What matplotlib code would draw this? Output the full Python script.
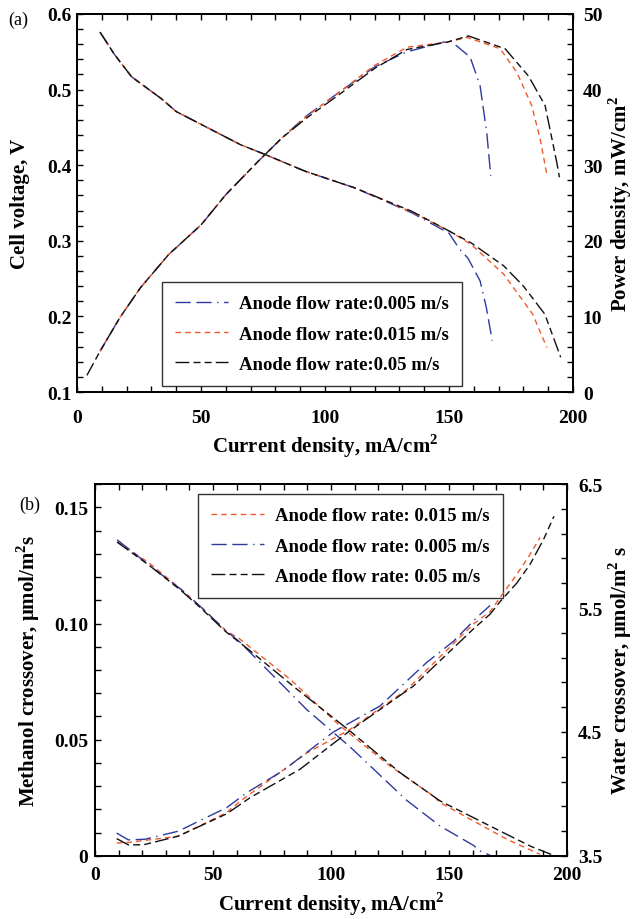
import matplotlib
matplotlib.use("Agg")
import numpy as np
import matplotlib.pyplot as plt
from matplotlib.ticker import MultipleLocator, FixedLocator, FormatStrFormatter

plt.rcParams['font.family'] = ['Liberation Serif', 'DejaVu Serif']
plt.rcParams['font.weight'] = 'bold'
plt.rcParams['axes.labelweight'] = 'bold'
plt.rcParams['mathtext.fontset'] = 'custom'
plt.rcParams['mathtext.rm'] = 'Liberation Serif:bold'
plt.rcParams['mathtext.bf'] = 'Liberation Serif:bold'

# ---- (a) polarization / power curves ----
v_x_005 = [9.3, 15, 22, 34, 40, 53, 66, 76, 92, 112, 135, 150, 154, 157.6, 162.5, 165, 167.4]
v_005 = [0.576, 0.547, 0.517, 0.488, 0.471, 0.449, 0.427, 0.414, 0.392, 0.370, 0.337, 0.310, 0.290, 0.277, 0.247, 0.212, 0.168]
v_x_015 = [9.3, 15, 22, 34, 40, 53, 66, 76, 92, 112, 135, 150, 159, 172, 183.7, 189.4]
v_015 = [0.576, 0.547, 0.517, 0.488, 0.471, 0.449, 0.427, 0.414, 0.392, 0.370, 0.338, 0.313, 0.295, 0.256, 0.203, 0.159]
v_x_05 = [9.3, 15, 22, 34, 40, 53, 66, 76, 92, 112, 135, 150, 159, 172, 180, 188.6, 195]
v_05 = [0.576, 0.547, 0.517, 0.488, 0.471, 0.449, 0.427, 0.414, 0.392, 0.370, 0.339, 0.313, 0.297, 0.267, 0.240, 0.203, 0.146]

p_x_005 = [9.3, 17.4, 25.6, 37, 50, 60, 73, 82.6, 92.4, 105.5, 120, 133, 150.4, 158.5, 162.5, 165.2, 166.8]
p_005 = [5.4, 9.9, 13.8, 18.2, 22.1, 26.1, 30.5, 33.6, 36.5, 39.6, 43.0, 45.0, 46.5, 44.3, 40.5, 34.3, 28.6]
p_x_015 = [9.3, 17.4, 25.6, 37, 50, 60, 73, 82.6, 92.4, 105.5, 120, 133, 149.5, 157.3, 170.6, 177.3, 183.3, 186.7, 189.4]
p_015 = [5.4, 9.9, 13.8, 18.2, 22.1, 26.1, 30.5, 33.6, 36.4, 39.6, 43.2, 45.6, 46.3, 46.9, 45.4, 42.3, 37.9, 33.5, 28.8]
p_x_05 = [4, 9.3, 17.4, 25.6, 37, 50, 60, 73, 82.6, 92.4, 105.5, 120, 133, 149.5, 157.8, 172.6, 182, 188.7, 193.4, 194.5]
p_05 = [2.2, 5.4, 9.9, 13.8, 18.2, 22.1, 26.1, 30.5, 33.6, 36.2, 39.3, 42.8, 45.3, 46.3, 47.1, 45.4, 41.8, 37.9, 30.4, 28.4]

# ---- (b) methanol / water crossover ----
m_x_005 = [9.4, 16.9, 23.3, 36.7, 45, 55.4, 61.4, 89.7, 108, 132, 146.2, 160.3, 163.1, 167.4]
m_005 = [0.136, 0.130, 0.1248, 0.1145, 0.107, 0.097, 0.092, 0.063, 0.047, 0.024, 0.0129, 0.0046, 0.0022, 0.0003]
m_x_015 = [9.4, 23, 36.7, 45, 55.4, 61.4, 82.6, 103.8, 125, 143.4, 146.2, 174.5, 188.6]
m_015 = [0.1352, 0.126, 0.1145, 0.107, 0.097, 0.0933, 0.0761, 0.056, 0.0387, 0.0258, 0.023, 0.0072, 0.0007]
m_x_05 = [9.4, 23, 36.7, 45, 55.4, 65.7, 85.5, 108, 129.2, 146.2, 174.5, 185, 195]
m_05 = [0.1350, 0.125, 0.114, 0.1065, 0.0965, 0.0883, 0.0718, 0.0538, 0.0359, 0.0237, 0.0093, 0.004, 0.0]

w_x_005 = [9.2, 14.1, 21.2, 35.3, 55.8, 64.3, 79.8, 101, 120.8, 140.5, 151.8, 162.4, 167.4]
w_005 = [3.685, 3.63, 3.635, 3.70, 3.89, 4.01, 4.19, 4.50, 4.71, 5.06, 5.23, 5.435, 5.52]
w_x_015 = [9.2, 14.7, 35.3, 55.8, 61.4, 89.7, 108, 132, 160.3, 167.4, 173, 178.7, 184.3, 188.6]
w_015 = [3.605, 3.61, 3.66, 3.85, 3.94, 4.33, 4.52, 4.84, 5.37, 5.47, 5.62, 5.77, 5.93, 6.07]
w_x_05 = [9.2, 14.1, 20.5, 35.3, 55.8, 65.7, 86.9, 108, 134.9, 160.3, 167.4, 171.6, 178.7, 184.3, 190, 194.5]
w_05 = [3.64, 3.59, 3.59, 3.66, 3.84, 3.97, 4.20, 4.51, 4.87, 5.33, 5.45, 5.55, 5.70, 5.85, 6.05, 6.24]

water_ticks = [3.5, 4.5, 5.5, 6.5]

blue = '#2c3a9e'
orange = '#f2592a'
black = '#111111'
ls_005 = (0, (11, 4, 11, 4, 1, 4))
ls_015 = (0, (4, 3))
ls_05 = (0, (10, 3, 5, 3, 5, 3))
lw = 1.0

fig = plt.figure(figsize=(6.32, 9.2), dpi=100)

# top panel
ax1 = fig.add_axes([0.1218, 0.5728, 0.785, 0.4109])
ax1r = ax1.twinx()
l1, = ax1.plot(v_x_005, v_005, color=blue, ls=ls_005, lw=lw)
l2, = ax1.plot(v_x_015, v_015, color=orange, ls=ls_015, lw=lw)
l3, = ax1.plot(v_x_05, v_05, color=black, ls=ls_05, lw=lw)
ax1r.plot(p_x_005, p_005, color=blue, ls=ls_005, lw=lw)
ax1r.plot(p_x_015, p_015, color=orange, ls=ls_015, lw=lw)
ax1r.plot(p_x_05, p_05, color=black, ls=ls_05, lw=lw)

ax1.set_xlim(0, 200)
ax1.set_ylim(0.1, 0.6)
ax1r.set_ylim(0, 50)
ax1.xaxis.set_major_locator(MultipleLocator(50))
ax1.xaxis.set_minor_locator(MultipleLocator(10))
ax1.yaxis.set_major_locator(MultipleLocator(0.1))
ax1.yaxis.set_minor_locator(MultipleLocator(0.02))
ax1.yaxis.set_major_formatter(FormatStrFormatter('%.1f'))
ax1r.yaxis.set_major_locator(MultipleLocator(10))
ax1r.yaxis.set_minor_locator(MultipleLocator(2))
for a in (ax1, ax1r):
    a.tick_params(which='both', direction='in', labelsize=14, length=4, width=1)
    for s in a.spines.values():
        s.set_linewidth(1.3)
ax1.tick_params(axis='x', which='both', top=True, pad=12)
ax1.tick_params(axis='y', pad=4)
ax1r.tick_params(axis='y', pad=7)
ax1.set_xlabel('Current density, mA/cm$^2$', fontsize=15, labelpad=4)

leg1 = ax1.legend([l1, l2, l3],
                  ['Anode flow rate:0.005 m/s', 'Anode flow rate:0.015 m/s',
                   'Anode flow rate:0.05 m/s'],
                  loc='lower left', bbox_to_anchor=(0.172, 0.016), borderaxespad=0,
                  fontsize=13.5, handlelength=2.8, handletextpad=0.6,
                  labelspacing=0.7, borderpad=0.7, fancybox=False)
leg1.get_frame().set_edgecolor('black')
leg1.get_frame().set_linewidth(1.0)

fig.text(20 / 632, 1 - 204 / 920, 'Cell voltage, V', rotation=90, ha='center', va='center', fontsize=15)
fig.text(620 / 632, 1 - 204 / 920, 'Power density, mW/cm$^2$', rotation=90, ha='center', va='center', fontsize=15)
fig.text(18 / 632, 1 - 20 / 920, '(a)', ha='center', va='center', fontsize=13, fontweight='normal')

# bottom panel
ax2 = fig.add_axes([0.1503, 0.0685, 0.7468, 0.4043])
ax2r = ax2.twinx()
k1, = ax2.plot(m_x_015, m_015, color=orange, ls=ls_015, lw=lw)
k2, = ax2.plot(m_x_005, m_005, color=blue, ls=ls_005, lw=lw)
k3, = ax2.plot(m_x_05, m_05, color=black, ls=ls_05, lw=lw)
ax2r.plot(w_x_015, w_015, color=orange, ls=ls_015, lw=lw)
ax2r.plot(w_x_005, w_005, color=blue, ls=ls_005, lw=lw)
ax2r.plot(w_x_05, w_05, color=black, ls=ls_05, lw=lw)

ax2.set_xlim(0, 200)
ax2.set_ylim(0, 0.16)
ax2r.set_ylim(3.5, 6.5)
ax2.xaxis.set_major_locator(MultipleLocator(50))
ax2.xaxis.set_minor_locator(MultipleLocator(10))
ax2.yaxis.set_major_locator(MultipleLocator(0.05))
ax2.yaxis.set_minor_locator(MultipleLocator(0.01))
ax2.yaxis.set_major_formatter(lambda v, p: '0' if abs(v) < 1e-9 else '%.2f' % v)
ax2r.yaxis.set_major_locator(FixedLocator(water_ticks))
ax2r.yaxis.set_minor_locator(FixedLocator(np.arange(3.5, 6.5, 0.2)))
ax2r.yaxis.set_major_formatter(FormatStrFormatter('%.1f'))
for a in (ax2, ax2r):
    a.tick_params(which='both', direction='in', labelsize=14, length=4, width=1)
    for s in a.spines.values():
        s.set_linewidth(1.3)
ax2.tick_params(axis='x', which='both', top=True, pad=7)
ax2.tick_params(axis='y', pad=5)
ax2r.tick_params(axis='y', pad=8)
ax2.set_xlabel('Current density, mA/cm$^2$', fontsize=15, labelpad=5)

leg2 = ax2.legend([k1, k2, k3],
                  ['Anode flow rate: 0.015 m/s', 'Anode flow rate: 0.005 m/s',
                   'Anode flow rate: 0.05 m/s'],
                  loc='upper left', bbox_to_anchor=(0.218, 0.973), borderaxespad=0,
                  fontsize=13.5, handlelength=2.8, handletextpad=0.6,
                  labelspacing=0.7, borderpad=0.7, fancybox=False)
leg2.get_frame().set_edgecolor('black')
leg2.get_frame().set_linewidth(1.0)

fig.text(28 / 632, 1 - 671 / 920, 'Methanol crossover, μmol/m$^2$s', rotation=90, ha='center', va='center', fontsize=15)
fig.text(620 / 632, 1 - 671 / 920, 'Water crossover, μmol/m$^2$ s', rotation=90, ha='center', va='center', fontsize=15)
fig.text(30 / 632, 1 - 505 / 920, '(b)', ha='center', va='center', fontsize=13, fontweight='normal')

fig.savefig('out.png', dpi=100)
